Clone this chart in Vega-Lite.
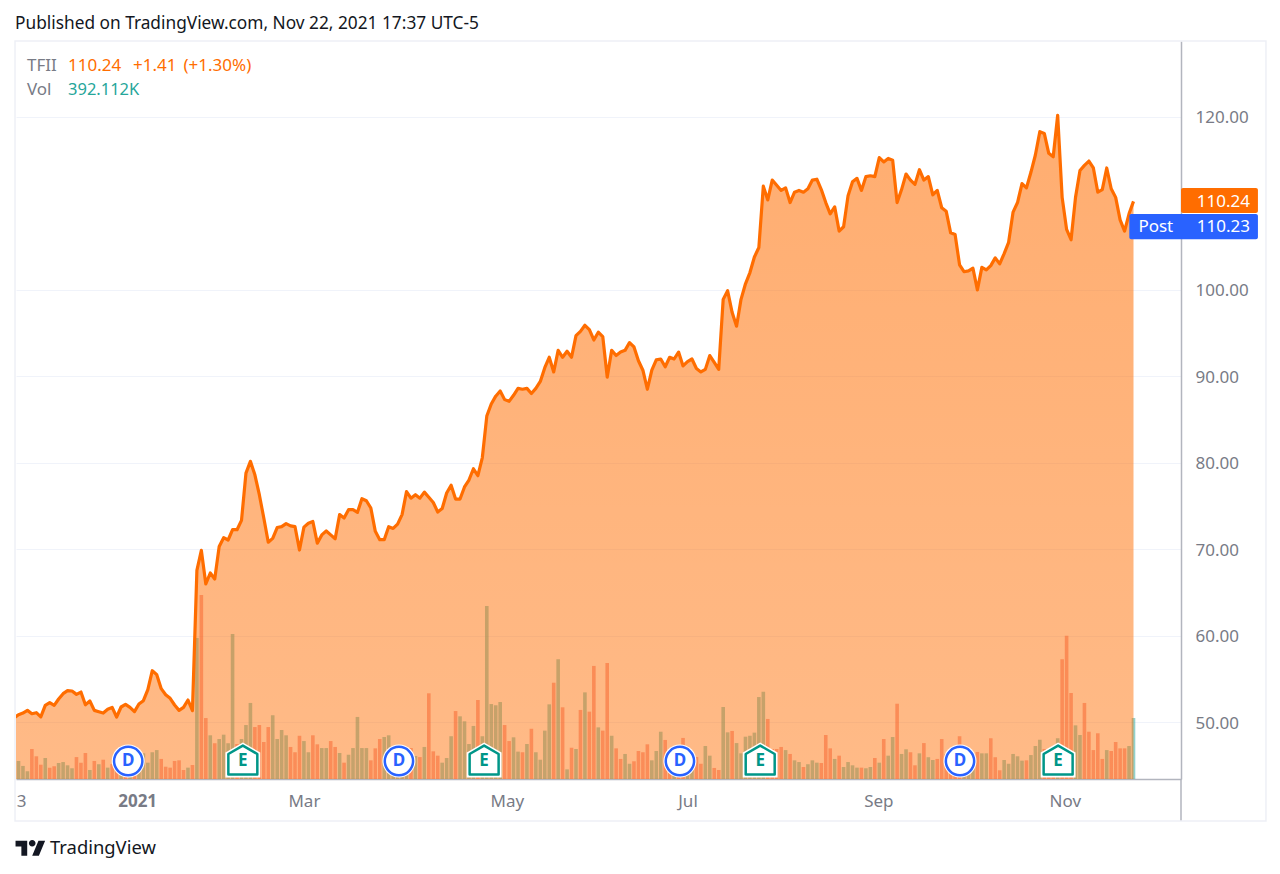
{"$schema":"https://vega.github.io/schema/vega-lite/v6.json","autosize":"none","width":1165,"height":738,"padding":{"left":16,"top":41,"right":99,"bottom":95},"background":"white","config":{"view":{"stroke":null},"font":"Noto Sans"},
"title":{"text":"Published on TradingView.com, Nov 22, 2021 17:37 UTC-5","anchor":"start","frame":"group","offset":8,"dx":-1,"fontSize":17.3,"fontWeight":"normal","font":"Noto Sans","color":"#131722"},
"datasets":{"sessions":[
{"s":0,"close":50.46,"vol":270,"d":"down"},{"s":1,"close":50.85,"vol":116,"d":"up"},{"s":2,"close":51.04,"vol":84,"d":"up"},{"s":3,"close":51.35,"vol":50,"d":"up"},{"s":4,"close":50.96,"vol":193,"d":"down"},{"s":5,"close":51.08,"vol":146,"d":"down"},{"s":6,"close":50.6,"vol":92,"d":"down"},{"s":7,"close":51.93,"vol":135,"d":"up"},{"s":8,"close":52.24,"vol":73,"d":"down"},{"s":9,"close":51.93,"vol":82,"d":"down"},
{"s":10,"close":52.66,"vol":103,"d":"up"},{"s":11,"close":53.28,"vol":109,"d":"up"},{"s":12,"close":53.63,"vol":88,"d":"up"},{"s":13,"close":53.59,"vol":69,"d":"up"},{"s":14,"close":53.2,"vol":141,"d":"down"},{"s":15,"close":53.47,"vol":105,"d":"down"},{"s":16,"close":52.0,"vol":167,"d":"down"},{"s":17,"close":52.43,"vol":58,"d":"up"},{"s":18,"close":51.35,"vol":116,"d":"down"},{"s":19,"close":51.2,"vol":95,"d":"up"},
{"s":20,"close":51.04,"vol":124,"d":"down"},{"s":21,"close":51.47,"vol":73,"d":"up"},{"s":22,"close":51.7,"vol":96,"d":"down"},{"s":23,"close":50.58,"vol":77,"d":"down"},{"s":24,"close":51.74,"vol":90,"d":"up"},{"s":25,"close":52.04,"vol":96,"d":"down"},{"s":26,"close":51.7,"vol":90,"d":"up"},{"s":27,"close":51.2,"vol":129,"d":"down"},{"s":28,"close":52.08,"vol":116,"d":"up"},{"s":29,"close":52.47,"vol":165,"d":"up"},
{"s":30,"close":53.74,"vol":105,"d":"up"},{"s":31,"close":55.94,"vol":172,"d":"up"},{"s":32,"close":55.48,"vol":186,"d":"up"},{"s":33,"close":53.86,"vol":129,"d":"down"},{"s":34,"close":53.16,"vol":79,"d":"down"},{"s":35,"close":52.74,"vol":73,"d":"down"},{"s":36,"close":51.97,"vol":116,"d":"down"},{"s":37,"close":51.35,"vol":120,"d":"down"},{"s":38,"close":51.7,"vol":58,"d":"down"},{"s":39,"close":52.55,"vol":73,"d":"up"},
{"s":40,"close":51.31,"vol":90,"d":"down"},{"s":41,"close":67.55,"vol":907,"d":"up"},{"s":42,"close":69.86,"vol":1183,"d":"down"},{"s":43,"close":65.97,"vol":392,"d":"down"},{"s":44,"close":67.24,"vol":281,"d":"up"},{"s":45,"close":66.54,"vol":230,"d":"down"},{"s":46,"close":70.32,"vol":257,"d":"up"},{"s":47,"close":71.33,"vol":285,"d":"up"},{"s":48,"close":71.06,"vol":230,"d":"up"},{"s":49,"close":72.25,"vol":932,"d":"up"},
{"s":50,"close":72.25,"vol":225,"d":"down"},{"s":51,"close":73.33,"vol":257,"d":"up"},{"s":52,"close":78.8,"vol":347,"d":"up"},{"s":53,"close":80.16,"vol":489,"d":"up"},{"s":54,"close":78.6,"vol":334,"d":"down"},{"s":55,"close":76.3,"vol":347,"d":"down"},{"s":56,"close":73.6,"vol":238,"d":"down"},{"s":57,"close":70.8,"vol":334,"d":"down"},{"s":58,"close":71.25,"vol":410,"d":"up"},{"s":59,"close":72.5,"vol":257,"d":"up"},
{"s":60,"close":72.6,"vol":315,"d":"up"},{"s":61,"close":72.95,"vol":281,"d":"up"},{"s":62,"close":72.7,"vol":206,"d":"down"},{"s":63,"close":72.6,"vol":172,"d":"down"},{"s":64,"close":69.9,"vol":278,"d":"down"},{"s":65,"close":72.55,"vol":244,"d":"up"},{"s":66,"close":73.0,"vol":172,"d":"up"},{"s":67,"close":73.2,"vol":281,"d":"down"},{"s":68,"close":70.7,"vol":223,"d":"down"},{"s":69,"close":71.65,"vol":199,"d":"up"},
{"s":70,"close":72.1,"vol":199,"d":"up"},{"s":71,"close":71.65,"vol":244,"d":"down"},{"s":72,"close":71.2,"vol":206,"d":"down"},{"s":73,"close":74.0,"vol":167,"d":"up"},{"s":74,"close":73.6,"vol":105,"d":"down"},{"s":75,"close":74.57,"vol":156,"d":"up"},{"s":76,"close":74.57,"vol":199,"d":"up"},{"s":77,"close":74.26,"vol":399,"d":"up"},{"s":78,"close":75.84,"vol":199,"d":"up"},{"s":79,"close":75.6,"vol":199,"d":"up"},
{"s":80,"close":74.76,"vol":120,"d":"down"},{"s":81,"close":72.06,"vol":197,"d":"down"},{"s":82,"close":71.1,"vol":257,"d":"down"},{"s":83,"close":71.1,"vol":270,"d":"up"},{"s":84,"close":72.6,"vol":281,"d":"up"},{"s":85,"close":72.4,"vol":193,"d":"up"},{"s":86,"close":72.9,"vol":141,"d":"up"},{"s":87,"close":74.0,"vol":129,"d":"up"},{"s":88,"close":76.66,"vol":129,"d":"up"},{"s":89,"close":75.9,"vol":199,"d":"down"},
{"s":90,"close":76.3,"vol":148,"d":"up"},{"s":91,"close":75.9,"vol":141,"d":"down"},{"s":92,"close":76.6,"vol":206,"d":"up"},{"s":93,"close":76.0,"vol":551,"d":"down"},{"s":94,"close":75.4,"vol":178,"d":"down"},{"s":95,"close":74.3,"vol":150,"d":"down"},{"s":96,"close":74.7,"vol":105,"d":"up"},{"s":97,"close":76.5,"vol":135,"d":"up"},{"s":98,"close":77.4,"vol":275,"d":"up"},{"s":99,"close":75.8,"vol":437,"d":"down"},
{"s":100,"close":75.8,"vol":403,"d":"up"},{"s":101,"close":77.2,"vol":371,"d":"up"},{"s":102,"close":78.0,"vol":225,"d":"up"},{"s":103,"close":79.3,"vol":341,"d":"up"},{"s":104,"close":78.5,"vol":508,"d":"down"},{"s":105,"close":80.6,"vol":275,"d":"up"},{"s":106,"close":85.4,"vol":1112,"d":"up"},{"s":107,"close":86.8,"vol":482,"d":"up"},{"s":108,"close":87.7,"vol":474,"d":"up"},{"s":109,"close":88.3,"vol":495,"d":"up"},
{"s":110,"close":87.3,"vol":347,"d":"down"},{"s":111,"close":87.1,"vol":244,"d":"down"},{"s":112,"close":87.8,"vol":268,"d":"up"},{"s":113,"close":88.6,"vol":176,"d":"up"},{"s":114,"close":88.5,"vol":172,"d":"down"},{"s":115,"close":88.6,"vol":225,"d":"up"},{"s":116,"close":88.0,"vol":323,"d":"down"},{"s":117,"close":88.6,"vol":172,"d":"up"},{"s":118,"close":89.4,"vol":124,"d":"up"},{"s":119,"close":91.0,"vol":311,"d":"up"},
{"s":120,"close":92.2,"vol":480,"d":"up"},{"s":121,"close":90.5,"vol":619,"d":"down"},{"s":122,"close":93.0,"vol":770,"d":"up"},{"s":123,"close":92.2,"vol":461,"d":"down"},{"s":124,"close":92.9,"vol":62,"d":"up"},{"s":125,"close":92.2,"vol":201,"d":"down"},{"s":126,"close":94.7,"vol":193,"d":"up"},{"s":127,"close":95.2,"vol":444,"d":"down"},{"s":128,"close":95.9,"vol":557,"d":"up"},{"s":129,"close":95.4,"vol":433,"d":"down"},
{"s":130,"close":94.2,"vol":727,"d":"down"},{"s":131,"close":95.1,"vol":332,"d":"up"},{"s":132,"close":94.6,"vol":311,"d":"down"},{"s":133,"close":89.9,"vol":746,"d":"down"},{"s":134,"close":93.0,"vol":278,"d":"up"},{"s":135,"close":92.4,"vol":197,"d":"down"},{"s":136,"close":92.8,"vol":129,"d":"down"},{"s":137,"close":93.0,"vol":161,"d":"up"},{"s":138,"close":93.9,"vol":98,"d":"up"},{"s":139,"close":93.4,"vol":114,"d":"down"},
{"s":140,"close":91.8,"vol":180,"d":"down"},{"s":141,"close":90.7,"vol":172,"d":"down"},{"s":142,"close":88.5,"vol":223,"d":"down"},{"s":143,"close":90.7,"vol":120,"d":"up"},{"s":144,"close":91.9,"vol":180,"d":"up"},{"s":145,"close":92.0,"vol":304,"d":"up"},{"s":146,"close":91.1,"vol":251,"d":"down"},{"s":147,"close":92.2,"vol":161,"d":"down"},{"s":148,"close":92.0,"vol":129,"d":"up"},{"s":149,"close":92.8,"vol":141,"d":"down"},
{"s":150,"close":91.2,"vol":264,"d":"down"},{"s":151,"close":91.7,"vol":129,"d":"up"},{"s":152,"close":92.0,"vol":161,"d":"up"},{"s":153,"close":90.9,"vol":141,"d":"down"},{"s":154,"close":90.5,"vol":98,"d":"down"},{"s":155,"close":90.8,"vol":212,"d":"up"},{"s":156,"close":92.4,"vol":150,"d":"up"},{"s":157,"close":91.6,"vol":71,"d":"down"},{"s":158,"close":90.8,"vol":58,"d":"down"},{"s":159,"close":98.9,"vol":463,"d":"up"},
{"s":160,"close":99.9,"vol":300,"d":"up"},{"s":161,"close":97.4,"vol":309,"d":"down"},{"s":162,"close":95.8,"vol":231,"d":"up"},{"s":163,"close":98.9,"vol":165,"d":"up"},{"s":164,"close":100.7,"vol":272,"d":"up"},{"s":165,"close":102.0,"vol":278,"d":"up"},{"s":166,"close":103.8,"vol":298,"d":"up"},{"s":167,"close":104.9,"vol":527,"d":"up"},{"s":168,"close":112.0,"vol":561,"d":"up"},{"s":169,"close":110.4,"vol":386,"d":"down"},
{"s":170,"close":112.7,"vol":193,"d":"down"},{"s":171,"close":112.1,"vol":193,"d":"down"},{"s":172,"close":111.5,"vol":206,"d":"down"},{"s":173,"close":111.8,"vol":186,"d":"up"},{"s":174,"close":110.1,"vol":161,"d":"down"},{"s":175,"close":111.3,"vol":120,"d":"up"},{"s":176,"close":111.5,"vol":109,"d":"up"},{"s":177,"close":111.3,"vol":77,"d":"down"},{"s":178,"close":111.7,"vol":95,"d":"up"},{"s":179,"close":112.7,"vol":120,"d":"up"},
{"s":180,"close":112.8,"vol":105,"d":"up"},{"s":181,"close":111.6,"vol":103,"d":"down"},{"s":182,"close":110.1,"vol":283,"d":"down"},{"s":183,"close":108.8,"vol":197,"d":"down"},{"s":184,"close":109.6,"vol":129,"d":"up"},{"s":185,"close":106.8,"vol":150,"d":"down"},{"s":186,"close":107.3,"vol":77,"d":"up"},{"s":187,"close":110.9,"vol":109,"d":"up"},{"s":188,"close":112.5,"vol":88,"d":"up"},{"s":189,"close":112.9,"vol":73,"d":"up"},
{"s":190,"close":111.5,"vol":73,"d":"down"},{"s":191,"close":113.1,"vol":69,"d":"up"},{"s":192,"close":113.2,"vol":77,"d":"up"},{"s":193,"close":113.1,"vol":135,"d":"down"},{"s":194,"close":115.3,"vol":105,"d":"up"},{"s":195,"close":114.8,"vol":257,"d":"down"},{"s":196,"close":115.2,"vol":150,"d":"up"},{"s":197,"close":115.0,"vol":270,"d":"up"},{"s":198,"close":110.1,"vol":484,"d":"down"},{"s":199,"close":111.6,"vol":161,"d":"up"},
{"s":200,"close":113.4,"vol":191,"d":"up"},{"s":201,"close":112.7,"vol":172,"d":"down"},{"s":202,"close":112.2,"vol":88,"d":"down"},{"s":203,"close":113.9,"vol":165,"d":"up"},{"s":204,"close":112.7,"vol":231,"d":"down"},{"s":205,"close":113.1,"vol":140,"d":"up"},{"s":206,"close":111.0,"vol":122,"d":"up"},{"s":207,"close":111.5,"vol":129,"d":"down"},{"s":208,"close":109.5,"vol":257,"d":"down"},{"s":209,"close":109.1,"vol":161,"d":"down"},
{"s":210,"close":106.6,"vol":161,"d":"down"},{"s":211,"close":106.4,"vol":193,"d":"down"},{"s":212,"close":102.9,"vol":275,"d":"down"},{"s":213,"close":102.1,"vol":161,"d":"up"},{"s":214,"close":102.2,"vol":129,"d":"up"},{"s":215,"close":102.5,"vol":141,"d":"up"},{"s":216,"close":100.0,"vol":174,"d":"down"},{"s":217,"close":102.6,"vol":165,"d":"up"},{"s":218,"close":102.3,"vol":165,"d":"up"},{"s":219,"close":102.8,"vol":262,"d":"down"},
{"s":220,"close":103.7,"vol":140,"d":"down"},{"s":221,"close":103.0,"vol":56,"d":"down"},{"s":222,"close":104.2,"vol":122,"d":"up"},{"s":223,"close":105.5,"vol":98,"d":"up"},{"s":224,"close":109.0,"vol":161,"d":"up"},{"s":225,"close":110.1,"vol":146,"d":"up"},{"s":226,"close":112.3,"vol":118,"d":"up"},{"s":227,"close":111.8,"vol":120,"d":"down"},{"s":228,"close":113.6,"vol":154,"d":"up"},{"s":229,"close":115.6,"vol":212,"d":"up"},
{"s":230,"close":118.3,"vol":253,"d":"up"},{"s":231,"close":118.1,"vol":193,"d":"down"},{"s":232,"close":115.8,"vol":161,"d":"down"},{"s":233,"close":115.4,"vol":161,"d":"down"},{"s":234,"close":120.2,"vol":262,"d":"up"},{"s":235,"close":110.7,"vol":770,"d":"down"},{"s":236,"close":107.0,"vol":921,"d":"down"},{"s":237,"close":105.8,"vol":553,"d":"down"},{"s":238,"close":110.7,"vol":345,"d":"up"},{"s":239,"close":113.8,"vol":283,"d":"up"},
{"s":240,"close":114.4,"vol":489,"d":"down"},{"s":241,"close":114.9,"vol":304,"d":"down"},{"s":242,"close":114.1,"vol":186,"d":"down"},{"s":243,"close":111.3,"vol":294,"d":"down"},{"s":244,"close":111.6,"vol":129,"d":"down"},{"s":245,"close":114.1,"vol":186,"d":"up"},{"s":246,"close":111.7,"vol":180,"d":"down"},{"s":247,"close":110.7,"vol":238,"d":"down"},{"s":248,"close":108.1,"vol":197,"d":"down"},{"s":249,"close":106.8,"vol":197,"d":"down"},
{"s":250,"close":108.8,"vol":212,"d":"up"},{"s":251,"close":110.24,"vol":392.112,"d":"up"}],
"events":[{"s":25.6,"type":"D"},{"s":86.3,"type":"D"},{"s":149.3,"type":"D"},{"s":212.1,"type":"D"},{"s":51.3,"type":"E"},{"s":105.4,"type":"E"},{"s":167.3,"type":"E"},{"s":234.1,"type":"E"}]},
"data":{"name":"sessions"},
"encoding":{"x":{"field":"s","type":"quantitative","title":null,"scale":{"domain":[0.44,261.65],"nice":false,"zero":false,"padding":0},"axis":{"values":[1.6,27.6,65,110.5,151,193.8,235.6],"labelExpr":"datum.value==1.6?'3':datum.value==27.6?'2021':datum.value==65?'Mar':datum.value==110.5?'May':datum.value==151?'Jul':datum.value==193.8?'Sep':'Nov'","labelOverlap":false,"labelFlush":false,"labelBound":false,"ticks":false,"grid":false,"domainColor":"#b2b5be","domainWidth":1.5,"labelPadding":14,"labelFontSize":17,"labelColor":"#787b86","labelFont":"Noto Sans","labelFontWeight":{"condition":{"test":"datum.value==27.6","value":"bold"},"value":"normal"}}}},
"layer":[
{"mark":{"type":"bar","size":3.6,"clip":true},"encoding":{"y":{"field":"vol","type":"quantitative","axis":null,"scale":{"domain":[0,4745],"nice":false}},"color":{"field":"d","type":"nominal","legend":null,"scale":{"domain":["up","down"],"range":["#26a69a","#ef5350"]}},"opacity":{"value":0.5}}},
{"layer":[
{"mark":{"type":"area","clip":true,"interpolate":"linear","color":{"gradient":"linear","x1":0,"y1":0,"x2":0,"y2":1,"stops":[{"offset":0,"color":"rgba(255,109,0,0.56)"},{"offset":1,"color":"rgba(255,109,0,0.47)"}]}},"encoding":{"y":{"field":"close","type":"quantitative","title":null,"scale":{"domain":[43.41,128.79],"nice":false,"zero":false},"axis":{"orient":"right","values":[50,60,70,80,90,100,120],"format":".2f","ticks":false,"grid":true,"gridColor":"#f0f3fa","gridWidth":1,"domainColor":"#b2b5be","domainWidth":1.5,"labelPadding":14,"labelOffset":1,"labelFontSize":17,"labelColor":"#787b86","labelFont":"Noto Sans"}},"y2":{"datum":43.41}}},
{"data":{"values":[{"last":110.24}]},"mark":{"type":"rule","color":"#2962ff","strokeWidth":1,"strokeDash":[1,2],"opacity":0.7},"encoding":{"x":{"datum":0.44},"x2":{"datum":261.65},"y":{"field":"last","type":"quantitative"}}},
{"mark":{"type":"line","clip":true,"color":"#ff6d00","strokeWidth":3.2,"strokeJoin":"round"},"encoding":{"y":{"field":"close","type":"quantitative"}}},
{"data":{"values":[{"s":261.65,"lo":38.55,"hi":43.41}]},"mark":{"type":"rule","color":"#b2b5be","strokeWidth":1.5},"encoding":{"x":{"field":"s","type":"quantitative"},"y":{"field":"lo","type":"quantitative"},"y2":{"field":"hi"}}},
{"data":{"values":[{"s1":0.22,"s2":280.7,"lo":38.55,"hi":128.79}]},"mark":{"type":"rect","fill":null,"stroke":"#eef0f6","strokeWidth":1.5},"encoding":{"x":{"field":"s1","type":"quantitative"},"x2":{"field":"s2"},"y":{"field":"lo","type":"quantitative"},"y2":{"field":"hi"}}},
{"data":{"name":"events"},"transform":[{"filter":"datum.type=='D'"}],"mark":{"type":"point","shape":"circle","filled":true,"fill":"white","size":1089,"opacity":1},"encoding":{"y":{"datum":45.49}}},
{"data":{"name":"events"},"transform":[{"filter":"datum.type=='D'"}],"mark":{"type":"point","shape":"circle","fill":"white","stroke":"#2962ff","strokeWidth":2.5,"size":800,"opacity":1},"encoding":{"y":{"datum":45.49}}},
{"data":{"name":"events"},"transform":[{"filter":"datum.type=='E'"}],"mark":{"type":"point","shape":"M-1,-0.42 L0,-1 L1,-0.42 L1,1 L-1,1 Z","fill":"white","stroke":"white","strokeWidth":2,"size":1080,"opacity":1},"encoding":{"y":{"datum":45.6}}},
{"data":{"name":"events"},"transform":[{"filter":"datum.type=='E'"}],"mark":{"type":"point","shape":"M-1,-0.42 L0,-1 L1,-0.42 L1,1 L-1,1 Z","fill":"white","stroke":"#009688","strokeWidth":2.5,"strokeJoin":"round","size":840,"opacity":1},"encoding":{"y":{"datum":45.6}}},
{"data":{"name":"events"},"transform":[{"filter":"datum.type=='D'"}],"mark":{"type":"text","color":"#2962ff","fontSize":17,"fontWeight":"bold","baseline":"middle"},"encoding":{"y":{"datum":45.49},"text":{"field":"type"}}},
{"data":{"name":"events"},"transform":[{"filter":"datum.type=='E'"}],"mark":{"type":"text","color":"#009688","fontSize":17,"fontWeight":"bold","baseline":"middle"},"encoding":{"y":{"datum":45.49},"text":{"field":"type"}}},
{"data":{"values":[{"s1":261.65,"s2":278.9,"lo":108.89,"hi":111.78}]},"mark":{"type":"rect","color":"#ff6d00","cornerRadius":2},"encoding":{"x":{"field":"s1","type":"quantitative"},"x2":{"field":"s2"},"y":{"field":"lo","type":"quantitative"},"y2":{"field":"hi"}}},
{"data":{"values":[{"s1":250.06,"s2":278.9,"lo":105.85,"hi":108.77}]},"mark":{"type":"rect","color":"#2962ff","cornerRadius":2},"encoding":{"x":{"field":"s1","type":"quantitative"},"x2":{"field":"s2"},"y":{"field":"lo","type":"quantitative"},"y2":{"field":"hi"}}},
{"data":{"values":[{"t":"110.24","s":277.1,"p":110.22},{"t":"110.23","s":277.1,"p":107.22}]},"mark":{"type":"text","color":"white","align":"right","baseline":"middle","fontSize":17},"encoding":{"x":{"field":"s","type":"quantitative"},"y":{"field":"p","type":"quantitative"},"text":{"field":"t"}}},
{"data":{"values":[{"t":"Post","s":252.1,"p":107.22}]},"mark":{"type":"text","color":"white","align":"left","baseline":"middle","fontSize":17},"encoding":{"x":{"field":"s","type":"quantitative"},"y":{"field":"p","type":"quantitative"},"text":{"field":"t"}}},
{"data":{"values":[{"t":"TFII","s":2.9,"p":125.92},{"t":"Vol","s":2.9,"p":123.14}]},"mark":{"type":"text","color":"#787b86","align":"left","baseline":"middle","fontSize":17},"encoding":{"x":{"field":"s","type":"quantitative"},"y":{"field":"p","type":"quantitative"},"text":{"field":"t"}}},
{"data":{"values":[{"t":"110.24","s":12.1,"p":125.92},{"t":"+1.41","s":26.7,"p":125.92},{"t":"(+1.30%)","s":38.0,"p":125.92}]},"mark":{"type":"text","color":"#ff6d00","align":"left","baseline":"middle","fontSize":17},"encoding":{"x":{"field":"s","type":"quantitative"},"y":{"field":"p","type":"quantitative"},"text":{"field":"t"}}},
{"data":{"values":[{"t":"392.112K","s":12.1,"p":123.14}]},"mark":{"type":"text","color":"#26a69a","align":"left","baseline":"middle","fontSize":16.5},"encoding":{"x":{"field":"s","type":"quantitative"},"y":{"field":"p","type":"quantitative"},"text":{"field":"t"}}},
{"data":{"values":[{"t":"TradingView","s":8.07,"p":35.4}]},"mark":{"type":"text","color":"#131722","align":"left","baseline":"middle","fontSize":18.4},"encoding":{"x":{"field":"s","type":"quantitative"},"y":{"field":"p","type":"quantitative"},"text":{"field":"t"}}},
{"data":{"values":[{"s":3.7,"p":35.4}]},"mark":{"type":"point","shape":"M-.222,.5 H-.611 V-.111 H-1 V-.5 H-.222 Z M.556,.5 H.111 L.528,-.5 H.972 Z M-.11,-.333 a.222,.222 0 1 0 .444,0 a.222,.222 0 1 0 -.444,0 Z","filled":true,"fill":"#131722","size":900,"opacity":1},"encoding":{"x":{"field":"s","type":"quantitative"},"y":{"field":"p","type":"quantitative"}}}
]}],
"resolve":{"scale":{"y":"independent"}}}
